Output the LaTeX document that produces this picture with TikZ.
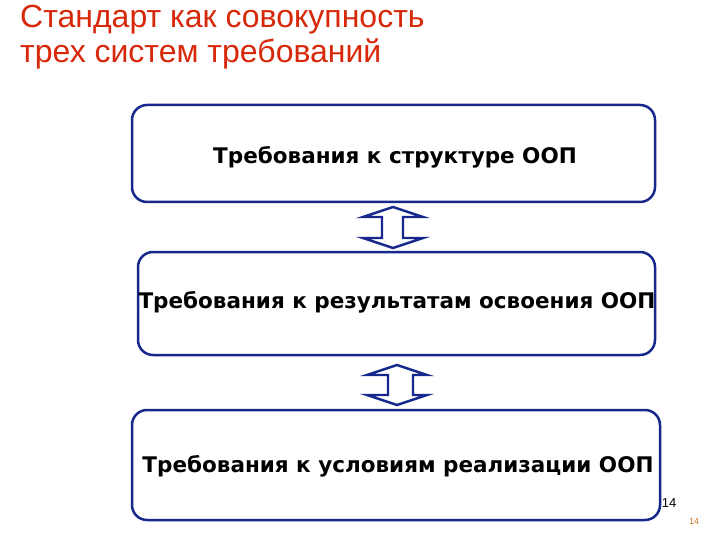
\documentclass[tikz,border=0pt]{standalone}
\usepackage{fontspec}
\setmainfont{Liberation Sans}
\newfontfamily\boxfont{DejaVu Sans}
\definecolor{navy}{RGB}{22,40,140}
\definecolor{titlered}{RGB}{215,40,10}
\definecolor{numor}{RGB}{200,120,40}
\begin{document}
\begin{tikzpicture}[x=1pt,y=-1pt,
  reqbox/.style={draw=navy,line width=2.5pt,rounded corners=15pt,fill=white},
  reqtext/.style={font=\boxfont\bfseries\fontsize{21.5}{24}\selectfont,text=black},
  dblarrow/.style={draw=navy,line width=2.4pt,fill=white,line join=miter}]
\useasboundingbox (0,0) rectangle (720,540);
\fill[white] (0,0) rectangle (720,540);
% title
\node[anchor=north west,inner sep=0,align=left,text=titlered,font=\fontsize{32}{35}\selectfont] (title) at (20,5) {Стандарт как совокупность\\трех систем требований};
% boxes
\draw[reqbox] (132,105) rectangle (655,202);
\node[reqtext] (t1) at (395,157) {Требования к структуре ООП};
\draw[reqbox] (138,252) rectangle (655,355);
\node[reqtext] (t2) at (397,302) {Требования к результатам освоения ООП};
\draw[reqbox] (132,410) rectangle (660,520);
\node[reqtext] (t3) at (398,466) {Требования к условиям реализации ООП};
% arrows
\draw[dblarrow] (393,207) -- (423,217) -- (403,217) -- (403,238) -- (423,238) -- (393,248) -- (363,238) -- (382,238) -- (382,217) -- (363,217) -- cycle;
\draw[dblarrow] (397,365) -- (427,375) -- (413,375) -- (413,395) -- (427,395) -- (397,405) -- (367,395) -- (388,395) -- (388,375) -- (367,375) -- cycle;
% page numbers
\node[font=\fontsize{13}{14}\selectfont] (n1) at (669,503) {14};
\node[font=\fontsize{9}{10}\selectfont,text=numor] (n2) at (694,521) {14};
\end{tikzpicture}
\end{document}
